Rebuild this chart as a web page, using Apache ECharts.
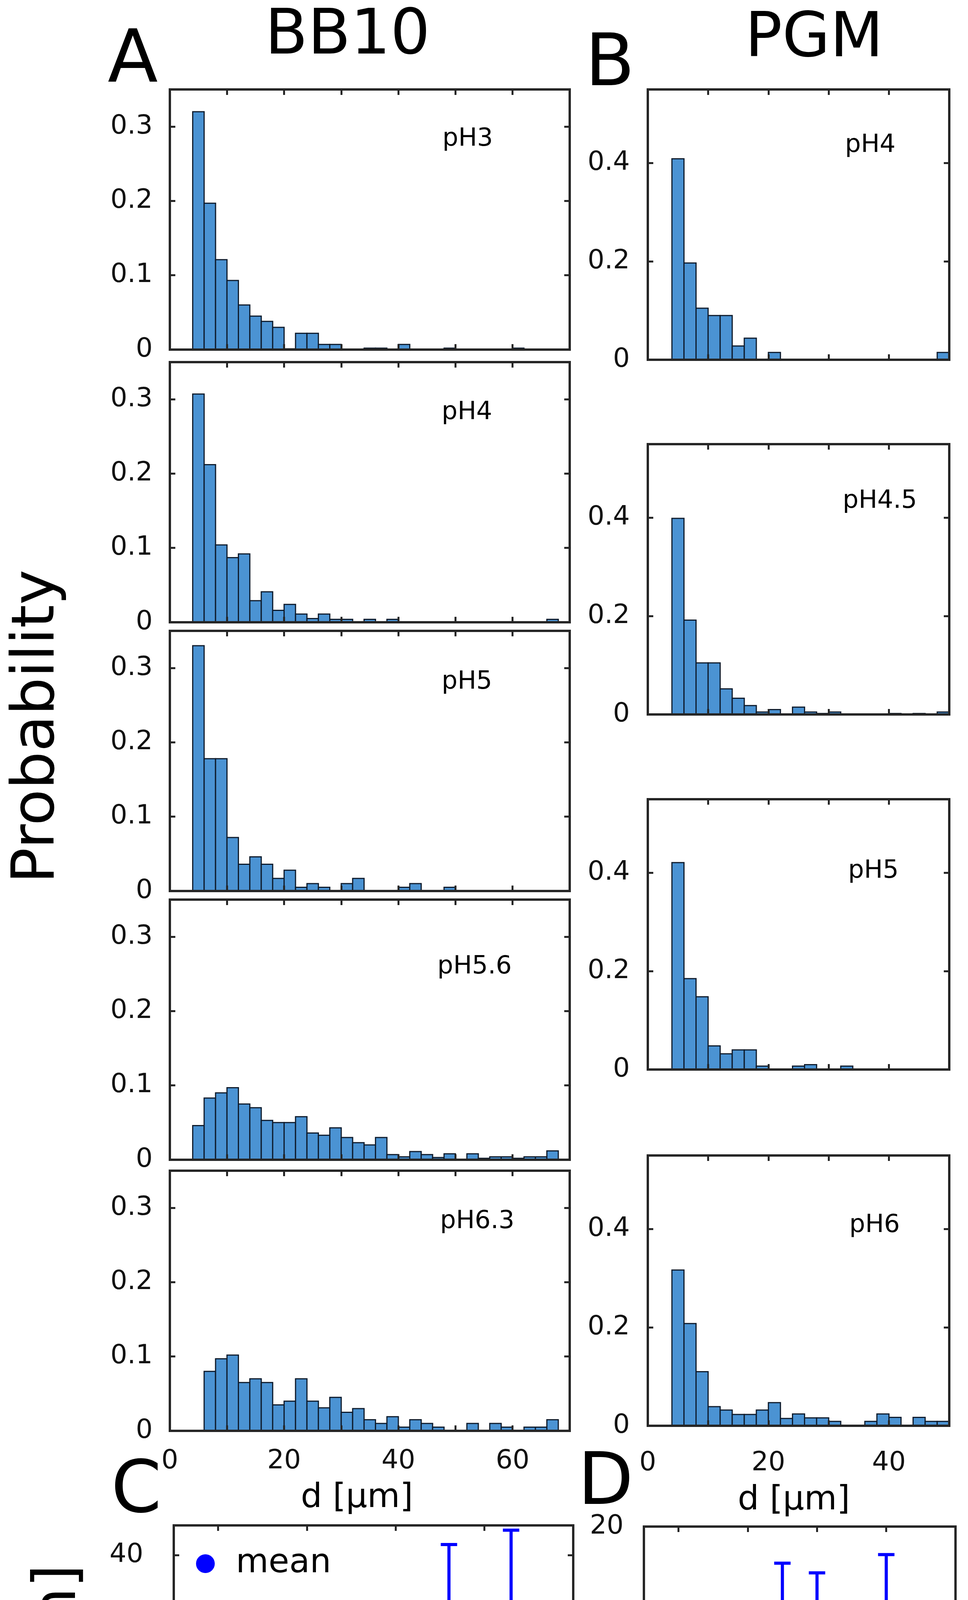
<!DOCTYPE html>
<html>
<head>
<meta charset="utf-8">
<script src="https://cdn.jsdelivr.net/npm/echarts@6/dist/echarts.min.js"></script>
<style>
html, body { margin: 0; padding: 0; background: #fff; }
#chart { width: 2479px; height: 4906px; }
</style>
</head>
<body>
<div id="chart"></div>
<script>
// left edges of the 2 um bins
var binsBB10 = [4, 6, 8, 10, 12, 14, 16, 18, 20, 22, 24, 26, 28, 30, 32, 34, 36, 38, 40, 42, 44, 46, 48, 50, 52, 54, 56, 58, 60, 62, 64, 66];
var binsPGM = [4, 6, 8, 10, 12, 14, 16, 18, 20, 22, 24, 26, 28, 30, 32, 34, 36, 38, 40, 42, 44, 46, 48];

// A - BB10 histograms
var bb10_pH3 = [0.320, 0.197, 0.121, 0.093, 0.060, 0.045, 0.038, 0.030, 0.001, 0.022, 0.022, 0.007, 0.007, 0, 0, 0.002, 0.002, 0, 0.007, 0, 0, 0, 0.002, 0, 0, 0, 0, 0, 0.002, 0, 0, 0];
var bb10_pH4 = [0.307, 0.212, 0.104, 0.087, 0.092, 0.029, 0.041, 0.016, 0.024, 0.011, 0.005, 0.011, 0.004, 0.004, 0, 0.004, 0, 0.004, 0, 0, 0, 0, 0, 0, 0, 0, 0, 0, 0, 0, 0, 0.004];
var bb10_pH5 = [0.330, 0.178, 0.178, 0.072, 0.036, 0.046, 0.036, 0.017, 0.028, 0.005, 0.010, 0.005, 0, 0.010, 0.017, 0, 0, 0, 0.005, 0.010, 0, 0, 0.005, 0, 0, 0, 0, 0, 0, 0, 0, 0];
var bb10_pH56 = [0.046, 0.083, 0.090, 0.097, 0.075, 0.070, 0.053, 0.050, 0.050, 0.058, 0.036, 0.033, 0.043, 0.030, 0.023, 0.020, 0.030, 0.007, 0.004, 0.011, 0.007, 0.003, 0.008, 0, 0.008, 0.002, 0.004, 0.004, 0.002, 0.004, 0.004, 0.012];
var bb10_pH63 = [0, 0.080, 0.097, 0.102, 0.065, 0.070, 0.065, 0.035, 0.040, 0.070, 0.040, 0.031, 0.045, 0.025, 0.030, 0.015, 0.010, 0.019, 0.005, 0.015, 0.010, 0.005, 0, 0, 0.010, 0, 0.010, 0.005, 0, 0.005, 0.005, 0.015];

// B - PGM histograms
var pgm_pH4 = [0.409, 0.197, 0.105, 0.090, 0.090, 0.028, 0.044, 0, 0.015, 0, 0, 0, 0, 0, 0, 0, 0, 0, 0, 0, 0, 0, 0.015];
var pgm_pH45 = [0.399, 0.192, 0.105, 0.105, 0.052, 0.033, 0.018, 0.005, 0.010, 0, 0.015, 0.005, 0.002, 0.005, 0, 0, 0, 0, 0.002, 0, 0.002, 0, 0.005];
var pgm_pH5 = [0.421, 0.185, 0.148, 0.048, 0.032, 0.040, 0.040, 0.007, 0, 0, 0.007, 0.010, 0, 0, 0.007, 0, 0, 0, 0, 0, 0, 0, 0];
var pgm_pH6 = [0.317, 0.208, 0.110, 0.039, 0.032, 0.023, 0.023, 0.032, 0.047, 0.015, 0.024, 0.016, 0.016, 0.009, 0, 0, 0.009, 0.024, 0.017, 0, 0.017, 0.009, 0.009];

// C - BB10 size vs pH
var phBB10 = [3, 4, 5, 5.6, 6.3];
var meanBB10 = [10.2, 10.1, 10.2, 23.2, 24.4];
var lowBB10 = [2.6, 2.2, 2.2, 4.8, 5.1];
var highBB10 = [17.8, 18.2, 18.4, 41.8, 44.2];
var medianBB10 = [6.8, 6.5, 6.5, 17.7, 17.9];

// D - PGM size vs pH
var phPGM = [3, 4, 4.5, 5, 6];
var meanPGM = [0, 2.5, 9.3, 8.8, 7.0];
var lowPGM = [0, -2.8, 1.9, 1.9, -3.2];
var highPGM = [0, 7.8, 16.6, 15.7, 17.4];
var medianPGM = [0, -0.4, 6.4, 6.4, 4.3];

// ticks / labels
var dTicksBB10 = [10, 20, 30, 40, 50, 60];
var dLabelsBB10 = [0, 20, 40, 60];
var dTicksPGM = [10, 20, 30, 40];
var dLabelsPGM = [0, 20, 40];
var probTicksBB10 = [0, 0.1, 0.2, 0.3];
var probTicksPGM = [0, 0.2, 0.4];
var pHTicks = [3, 4, 5, 6, 7];
var sizeTicksBB10 = [0, 20, 40];
var sizeTicksPGM = [0, 10, 20];

var FONT = 'DejaVu Sans';
var LINE = '#262626';
var BLUE = '#0000ff';
var BAR = '#4b93d3';
var BAREDGE = '#0e1b2c';
var XMARK = 'path://M0,0L1.5,0L20,18.5L20,20L18.5,20L0,1.5Z M20,0L20,1.5L1.5,20L0,20L0,18.5L18.5,0Z';
var XMARK_LEGEND = 'path://M-3,-3L-3,-3Z M23,23L23,23Z M0,0L1.6,0L20,18.4L20,20L18.4,20L0,1.6Z M20,0L20,1.6L1.6,20L0,20L0,18.4L18.4,0Z';

var grids = [], xAxes = [], yAxes = [], series = [], texts = [];

function fmtProb(v) { return v === 0 ? '0' : v.toFixed(1); }

function addPanel(box, xr, yr, xt, xl, yt, yl, xm, ym, yfmt) {
  var g = grids.length;
  grids.push({ left: box[0], top: box[1], width: box[2], height: box[3] });
  ['bottom', 'top'].forEach(function (pos, k) {
    xAxes.push({
      gridIndex: g, type: 'value', position: pos, min: xr[0], max: xr[1], z: 10,
      axisLine: { show: true, onZero: false, lineStyle: { color: LINE, width: 6, cap: 'square' } },
      axisTick: { show: true, inside: true, length: 14, lineStyle: { color: LINE, width: 5 }, customValues: xt },
      axisLabel: { show: k === 0 && !!xl, customValues: xl || [], margin: xm, fontSize: 68, fontFamily: FONT, color: '#111' },
      splitLine: { show: false }
    });
  });
  ['left', 'right'].forEach(function (pos, k) {
    yAxes.push({
      gridIndex: g, type: 'value', position: pos, min: yr[0], max: yr[1], z: 10,
      axisLine: { show: true, onZero: false, lineStyle: { color: LINE, width: 6, cap: 'square' } },
      axisTick: { show: true, inside: true, length: 14, lineStyle: { color: LINE, width: 5 }, customValues: yt },
      axisLabel: { show: k === 0, customValues: yl, margin: ym, fontSize: 68, fontFamily: FONT, color: '#111', formatter: yfmt },
      splitLine: { show: false }
    });
  });
  return g;
}

function addHist(g, bins, vals) {
  series.push({
    type: 'custom', xAxisIndex: 2 * g, yAxisIndex: 2 * g, silent: true,
    data: bins.map(function (b, i) { return [b, b + 2, vals[i]]; }),
    encode: { x: [0, 1], y: 2 },
    renderItem: function (params, api) {
      var v = api.value(2);
      if (!v) return { type: 'group', children: [] };
      var a = api.coord([api.value(0), v]);
      var b = api.coord([api.value(1), 0]);
      return {
        type: 'rect',
        shape: { x: a[0], y: a[1], width: b[0] - a[0], height: b[1] - a[1] },
        style: { fill: BAR, stroke: BAREDGE, lineWidth: 3 }
      };
    }
  });
}

function addSummary(g, ph, mean, low, high, median, xSize) {
  var xi = 2 * g, yi = 2 * g;
  series.push({
    type: 'line', name: 'meanLine', xAxisIndex: xi, yAxisIndex: yi, silent: true,
    data: ph.map(function (p, i) { return [p, mean[i]]; }),
    showSymbol: false, lineStyle: { color: BLUE, width: 8 }, z: 3
  });
  series.push({
    type: 'custom', name: 'err', xAxisIndex: xi, yAxisIndex: yi, silent: true,
    data: ph.map(function (p, i) { return [p, low[i], high[i]]; }),
    encode: { x: 0, y: [1, 2] },
    renderItem: function (params, api) {
      var x = api.value(0);
      var lo = api.coord([x, api.value(1)]);
      var hi = api.coord([x, api.value(2)]);
      var w = 21;
      var st = { stroke: BLUE, lineWidth: 8 };
      return {
        type: 'group', children: [
          { type: 'line', shape: { x1: lo[0], y1: lo[1], x2: hi[0], y2: hi[1] }, style: st },
          { type: 'line', shape: { x1: lo[0] - w, y1: lo[1], x2: lo[0] + w, y2: lo[1] }, style: st },
          { type: 'line', shape: { x1: hi[0] - w, y1: hi[1], x2: hi[0] + w, y2: hi[1] }, style: st }
        ]
      };
    },
    z: 3
  });
  series.push({
    type: 'scatter', name: 'mean', xAxisIndex: xi, yAxisIndex: yi, silent: true,
    data: ph.map(function (p, i) { return [p, mean[i]]; }),
    symbol: 'circle', symbolSize: [58, 52], itemStyle: { color: BLUE, opacity: 1 }, z: 4
  });
  series.push({
    type: 'scatter', name: 'median', xAxisIndex: xi, yAxisIndex: yi, silent: true,
    data: ph.map(function (p, i) { return [p, median[i]]; }),
    symbol: XMARK, symbolSize: xSize, itemStyle: { color: BLUE, opacity: 1 }, z: 5
  });
}

function txt(s, x, y, size, rot, align) {
  texts.push({
    type: 'text', x: x, y: y, rotation: rot || 0, silent: true, z: 20,
    style: {
      text: s, fontSize: size, fontFamily: FONT, fill: '#000',
      textAlign: align || 'center', textVerticalAlign: 'middle',
      align: align || 'center', verticalAlign: 'middle'
    }
  });
}

// panel A
var topsA = [229, 927, 1615, 2303, 2997];
var dataA = [bb10_pH3, bb10_pH4, bb10_pH5, bb10_pH56, bb10_pH63];
topsA.forEach(function (t, i) {
  var g = addPanel([435, t, 1024, 666], [0, 70], [0, 0.35], dTicksBB10,
    i === topsA.length - 1 ? dLabelsBB10 : null, probTicksBB10, probTicksBB10, 44, 44, fmtProb);
  addHist(g, binsBB10, dataA[i]);
});

// panel B
var topsB = [229, 1137, 2046, 2958];
var dataB = [pgm_pH4, pgm_pH45, pgm_pH5, pgm_pH6];
topsB.forEach(function (t, i) {
  var g = addPanel([1659, t, 772, 692], [0, 50], [0, 0.55], dTicksPGM,
    i === topsB.length - 1 ? dLabelsPGM : null, probTicksPGM, probTicksPGM, 62, 46, fmtProb);
  addHist(g, binsPGM, dataB[i]);
});

// panels C and D
var gC = addPanel([445, 3905, 1023, 690], [2.5, 7], [0, 45], pHTicks, pHTicks, sizeTicksBB10, sizeTicksBB10, 34, 78);
addSummary(gC, phBB10, meanBB10, lowBB10, highBB10, medianBB10, [76, 56]);
var gD = addPanel([1649, 3908, 798, 689], [2.5, 7], [-5, 20], pHTicks, pHTicks, sizeTicksPGM, sizeTicksPGM, 56, 52);
addSummary(gD, phPGM, meanPGM, lowPGM, highPGM, medianPGM, [74, 68]);

// titles, letters, axis names, pH tags
txt('A', 340, 160, 188);
txt('BB10', 890, 95, 160);
txt('B', 1562, 170, 185);
txt('PGM', 2085, 103, 158);
txt('C', 349, 3822, 185);
txt('D', 1551, 3802, 185);
txt('Probability', 98, 1860, 152, Math.PI / 2);
txt('d [µm]', 914, 3836, 86);
txt('d [µm]', 2033, 3842, 86);
txt('d [µm]', 153, 4259, 152, Math.PI / 2);
txt('pH', 957, 4815, 118);
txt('pH', 2098, 4815, 118);

var tagsA = [['pH3', 1133, 356], ['pH4', 1131, 1056], ['pH5', 1131, 1746], ['pH5.6', 1120, 2475], ['pH6.3', 1127, 3127]];
var tagsB = [['pH4', 2164, 372], ['pH4.5', 2158, 1283], ['pH5', 2172, 2230], ['pH6', 2175, 3137]];
tagsA.concat(tagsB).forEach(function (t) { txt(t[0], t[1], t[2], 64, 0, 'left'); });

var chart = echarts.init(document.getElementById('chart'));
chart.setOption({
  animation: false,
  backgroundColor: '#fff',
  grid: grids,
  xAxis: xAxes,
  yAxis: yAxes,
  legend: {
    data: [{ name: 'mean', icon: 'circle' }, { name: 'median', icon: XMARK_LEGEND }],
    orient: 'vertical', left: 497, top: 3953,
    itemWidth: 50, itemHeight: 48, itemGap: 49, selectedMode: false,
    textStyle: { fontSize: 86, fontFamily: FONT, color: '#000', lineHeight: 90, padding: [0, 0, 0, 48] }
  },
  graphic: texts,
  series: series
});
</script>
</body>
</html>
